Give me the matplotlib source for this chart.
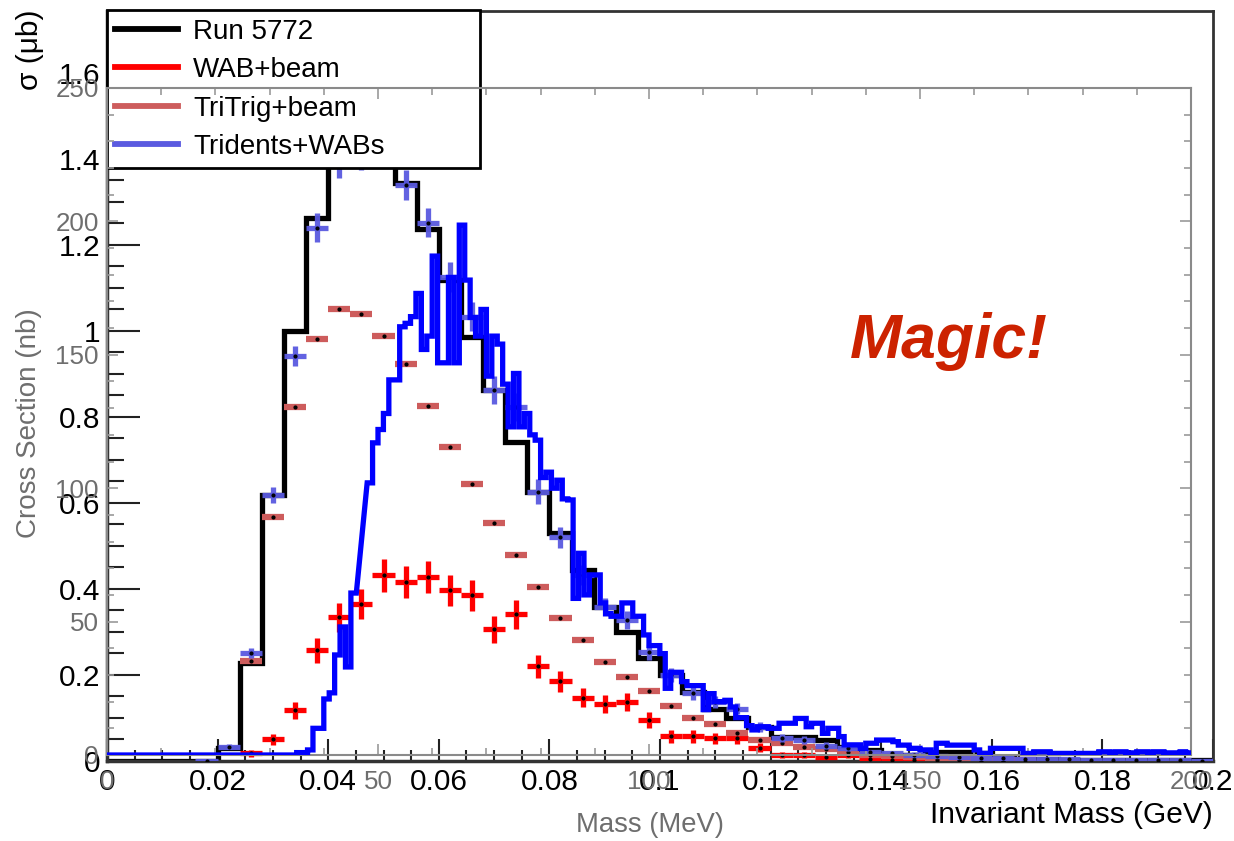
import numpy as np
import matplotlib
matplotlib.use("Agg")
import matplotlib.pyplot as plt
from matplotlib.lines import Line2D

plt.rcParams['font.family'] = ['Liberation Sans', 'DejaVu Sans']

# ---------------- data (black axes: GeV / micro-barn) ----------------
run_edges = np.round(np.arange(0, 0.2001, 0.004), 4)
run_vals = [0, 0, 0, 0, 0, 0.03, 0.227, 0.618, 1.0, 1.262,
            1.45, 1.47, 1.44, 1.343, 1.236, 1.118, 0.985, 0.862, 0.742, 0.626,
            0.529, 0.443, 0.358, 0.30, 0.239, 0.20, 0.16, 0.12, 0.10, 0.08,
            0.056, 0.056, 0.048, 0.033, 0.025, 0.015, 0.015, 0.02, 0.02, 0.018,
            0.01, 0.005, 0.004, 0.003, 0.003, 0.003, 0.002, 0.002, 0.002, 0.002]

wab_x = [0.026, 0.030, 0.034, 0.038, 0.042, 0.046, 0.050, 0.054, 0.058, 0.062,
         0.066, 0.070, 0.074, 0.078, 0.082, 0.086, 0.090, 0.094, 0.098, 0.102,
         0.106, 0.110, 0.114, 0.118, 0.122, 0.126, 0.130, 0.134, 0.138, 0.142,
         0.146, 0.150, 0.154, 0.158, 0.162]
wab_y = [0.018, 0.05, 0.118, 0.257, 0.334, 0.364, 0.432, 0.416, 0.428, 0.397,
         0.385, 0.306, 0.341, 0.22, 0.185, 0.147, 0.133, 0.137, 0.095, 0.057,
         0.057, 0.053, 0.053, 0.031, 0.013, 0.013, 0.009, 0.013, 0.004, 0.003,
         0.003, 0.002, 0.002, 0.001, 0.001]
wab_err = [0.008, 0.013, 0.02, 0.029, 0.033, 0.035, 0.038, 0.037, 0.038, 0.036,
           0.036, 0.032, 0.034, 0.027, 0.025, 0.022, 0.021, 0.021, 0.018, 0.014,
           0.014, 0.013, 0.013, 0.01, 0.007, 0.007, 0.005, 0.007, 0.004, 0.003,
           0.003, 0.003, 0.003, 0.002, 0.002]

tri_x = [0.026, 0.030, 0.034, 0.038, 0.042, 0.046, 0.050, 0.054, 0.058, 0.062,
         0.066, 0.070, 0.074, 0.078, 0.082, 0.086, 0.090, 0.094, 0.098, 0.102,
         0.106, 0.110, 0.114, 0.118, 0.122, 0.126, 0.130, 0.134, 0.138, 0.142,
         0.146, 0.150, 0.154, 0.158, 0.162, 0.166]
tri_y = [0.233, 0.567, 0.823, 0.982, 1.05, 1.039, 0.989, 0.924, 0.825, 0.73,
         0.645, 0.554, 0.479, 0.405, 0.333, 0.282, 0.23, 0.195, 0.162, 0.127,
         0.099, 0.085, 0.066, 0.048, 0.042, 0.033, 0.029, 0.021, 0.013, 0.011,
         0.009, 0.007, 0.005, 0.004, 0.003, 0.002]

trd_x = [0.018, 0.022, 0.026, 0.030, 0.034, 0.038, 0.042, 0.046, 0.050, 0.054,
         0.058, 0.062, 0.066, 0.070, 0.074, 0.078, 0.082, 0.086, 0.090, 0.094,
         0.098, 0.102, 0.106, 0.110, 0.114, 0.118, 0.122, 0.126, 0.130, 0.134,
         0.138, 0.142, 0.146, 0.150, 0.154, 0.158, 0.162, 0.166, 0.170, 0.174,
         0.178, 0.182, 0.186, 0.190, 0.194, 0.198]
trd_y = [0.0, 0.033, 0.251, 0.618, 0.941, 1.24, 1.39, 1.41, 1.45, 1.34,
         1.251, 1.126, 1.033, 0.862, 0.823, 0.626, 0.52, 0.432, 0.358, 0.327,
         0.253, 0.2, 0.157, 0.137, 0.122, 0.079, 0.054, 0.048, 0.036, 0.03,
         0.02, 0.018, 0.015, 0.012, 0.01, 0.008, 0.006, 0.005, 0.004, 0.004,
         0.003, 0.003, 0.002, 0.002, 0.002, 0.001]
trd_err = [0.002, 0.006, 0.012, 0.018, 0.023, 0.033, 0.035, 0.035, 0.036, 0.035,
           0.034, 0.035, 0.034, 0.033, 0.032, 0.029, 0.025, 0.024, 0.022, 0.021,
           0.019, 0.017, 0.015, 0.014, 0.013, 0.011, 0.009, 0.009, 0.008, 0.007,
           0.006, 0.005, 0.005, 0.004, 0.004, 0.003, 0.003, 0.003, 0.003, 0.003,
           0.002, 0.002, 0.002, 0.002, 0.002, 0.002]

# ---------------- data (grey axes: MeV / nb), 1 MeV bins ----------------
blue_lo = list(range(0, 46)) + list(range(48, 200))
blue_val = ([0] * 35 +
            [0.9, 0.9, 1.9, 10, 10, 21, 23.3, 37.5, 48, 33, 60.7] +      # 35-45
            [102, 117, 122, 128, 140.6, 140.6, 160.5, 161.8, 164.3, 173,  # 48-57
             152, 157, 187, 147, 147, 179, 147, 198.6, 178, 164,          # 58-67
             157, 167, 142, 157, 154, 139, 123, 143, 123, 128,            # 68-77
             120, 118, 104, 106, 100, 103, 96, 95.6, 58.7, 75.6,          # 78-87
             60, 67.5, 67.5, 57, 53, 52, 52, 57, 57, 52,                  # 88-97
             52, 45, 41, 41, 38, 25, 31, 31, 27.5, 26,                    # 98-107
             26, 26, 17, 23, 20, 20, 20.5, 18, 14, 14,                    # 108-117
             11, 9.4, 10.6, 10.6, 10, 10, 11.9, 11.9, 11.9, 13.7,         # 118-127
             13.7, 10.6, 11.9, 11.9, 8.1, 10, 10, 6.9, 3.8, 3.8,          # 128-137
             3.8, 2.5, 4.4, 4.4, 5.6, 5.6, 5.6, 5, 3.7, 3.7,              # 138-147
             2.5, 2.5, 1.9, 1.9, 0.6, 4.4, 4.4, 3.7, 3.7, 3.7,            # 148-157
             3.7, 3.7, 1.9, 0.6, 0.6, 2.5, 2.5, 2.5, 2.5, 2.5,            # 158-167
             2.5, 0.6, 0.6, 1.2, 1.2, 1.2, 0.6, 0.6, 0.6, 0.6,            # 168-177
             0.6, 0.6, 0.6, 0.6, 0.6, 1.2, 1.2, 0.8, 1.2, 1.2,            # 178-187
             0.8, 0.8, 1.2, 1.2, 0.8, 1.2, 1.2, 0.8, 0.8, 0.8,            # 188-197
             1.2, 0.8])                                                   # 198-199

legend_labels = ["Run 5772", "WAB+beam", "TriTrig+beam", "Tridents+WABs"]
C_RUN, C_WAB, C_TRI, C_TRD, C_BLUE = "black", "#ff0000", "#cd5c5c", "#5a5ae0", "#0000ff"

W, H = 1234, 841
fig = plt.figure(figsize=(W / 100, H / 100), dpi=100)

def rect(l, t, r, b):
    return [l / W, 1 - b / H, (r - l) / W, (b - t) / H]

# ---------------- black (first) pad ----------------
ax1 = fig.add_axes(rect(107, 11, 1213, 761))
ax1.set_xlim(0, 0.2)
ax1.set_ylim(0, 1.7435)
ax1.stairs(run_vals, run_edges, color=C_RUN, lw=3.8, baseline=0, zorder=2)
ax1.errorbar(wab_x, wab_y, xerr=0.002, yerr=wab_err, fmt='o', ms=2, mfc='black',
             mec='black', ecolor=C_WAB, elinewidth=3.8, capsize=0, zorder=3)
ax1.errorbar(tri_x, tri_y, xerr=0.002, yerr=None, fmt='o', ms=2, mfc='black',
             mec='black', ecolor=C_TRI, elinewidth=4.5, capsize=0, zorder=3)
ax1.errorbar(trd_x, trd_y, xerr=0.002, yerr=trd_err, fmt='o', ms=2, mfc='black',
             mec='black', ecolor=C_TRD, elinewidth=3.8, capsize=0, zorder=4, alpha=0.95)

ax1.set_xticks(np.arange(0, 0.2001, 0.02))
ax1.set_xticklabels(["0", "0.02", "0.04", "0.06", "0.08", "0.1", "0.12", "0.14",
                     "0.16", "0.18", "0.2"])
ax1.set_xticks(np.arange(0, 0.2001, 0.005), minor=True)
ax1.set_yticks(np.arange(0, 1.61, 0.2))
ax1.set_yticklabels(["0", "0.2", "0.4", "0.6", "0.8", "1", "1.2", "1.4", "1.6"])
ax1.set_yticks(np.arange(0, 1.74, 0.05), minor=True)
ax1.tick_params(axis='both', which='both', direction='in', colors='#222222',
                labelcolor='black', labelsize=21.5, top=False, right=False, width=1.5)
ax1.tick_params(axis='x', which='major', length=16, pad=5)
ax1.tick_params(axis='x', which='minor', length=8)
ax1.tick_params(axis='y', which='major', length=24, pad=5)
ax1.tick_params(axis='y', which='minor', length=12)
for s in ax1.spines.values():
    s.set_color('#333333')
    s.set_linewidth(2)
ax1.spines['left'].set_linewidth(2.5)
ax1.spines['bottom'].set_linewidth(2.5)

handles = [Line2D([], [], color=c, lw=4.2) for c in (C_RUN, C_WAB, C_TRI, C_TRD)]
leg = ax1.legend(handles, legend_labels, loc='upper left',
                 bbox_to_anchor=(0, 1, 373 / 1106, 0.001), mode='expand',
                 fontsize=20, frameon=True, fancybox=False, framealpha=1,
                 edgecolor='black', handlelength=2.25, handletextpad=0.55,
                 borderpad=0.3, labelspacing=0.45, borderaxespad=0)
leg.get_frame().set_linewidth(2)
leg.set_zorder(10)

# ---------------- grey (second) pad ----------------
ax2 = fig.add_axes(rect(107, 88, 1191, 755))
ax2.patch.set_alpha(0)
ax2.set_xlim(0, 200)
ax2.set_ylim(0, 250)
bx, by = [0], [0]
for lo, v in zip(blue_lo, blue_val):
    bx += [lo, lo + 1]
    by += [v, v]
bx += [200]
by += [0]
ax2.plot(bx, by, color=C_BLUE, lw=3.8, solid_joinstyle='miter', zorder=5)
ax2.set_xticks(np.arange(0, 201, 50))
ax2.set_xticks(np.arange(0, 201, 10), minor=True)
ax2.set_yticks(np.arange(0, 251, 50))
ax2.set_yticks(np.arange(0, 251, 10), minor=True)
ax2.tick_params(axis='both', which='both', direction='in', colors='#999999',
                labelcolor='#6e6e6e', labelsize=18.7, top=True, right=True, width=1.2)
ax2.tick_params(which='major', length=8)
ax2.tick_params(axis='x', which='major', pad=11)
ax2.tick_params(axis='y', which='major', pad=6)
ax2.tick_params(which='minor', length=5)
for s in ax2.spines.values():
    s.set_color('#8a8a8a')
    s.set_linewidth(1.5)

# ---------------- titles / annotations ----------------
fig.text(30 / W, 1 - 50 / H, "σ (μb)", rotation=90, ha='center', va='center',
         fontsize=21.5, color='black')
fig.text(1213 / W, 1 - 815 / H, "Invariant Mass (GeV)", ha='right', va='center',
         fontsize=21.5, color='black')
fig.text(650 / W, 1 - 825 / H, "Mass (MeV)", ha='center', va='center',
         fontsize=19.8, color='#6e6e6e')
fig.text(29 / W, 1 - 423 / H, "Cross Section (nb)", rotation=90, ha='center',
         va='center', fontsize=20, color='#6e6e6e')
fig.text(949 / W, 1 - 342 / H, "Magic!", ha='center', va='center', fontsize=45,
         fontweight='bold', fontstyle='italic', color='#cc2200')

fig.savefig("out.png", dpi=100)
